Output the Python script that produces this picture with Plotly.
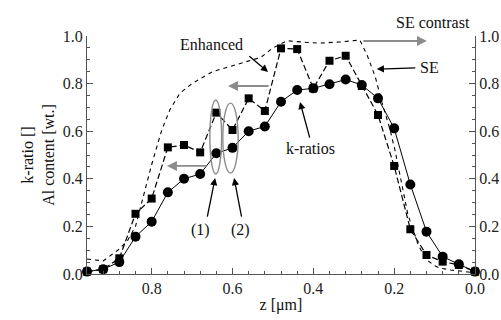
import plotly.graph_objects as go

z = [0.96, 0.92, 0.88, 0.84, 0.80, 0.76, 0.72, 0.68, 0.64, 0.60, 0.56, 0.52, 0.48,
     0.44, 0.40, 0.36, 0.32, 0.28, 0.24, 0.20, 0.16, 0.12, 0.08, 0.04, 0.00]
k_ratios = [0.01, 0.02, 0.05, 0.157, 0.22, 0.343, 0.40, 0.42, 0.507, 0.53, 0.60, 0.62, 0.724,
            0.773, 0.78, 0.797, 0.817, 0.794, 0.738, 0.612, 0.376, 0.178, 0.073, 0.041, 0.01]
enhanced = [0.01, 0.02, 0.066, 0.253, 0.317, 0.532, 0.542, 0.511, 0.678, 0.605, 0.738, 0.685, 0.948,
            0.945, 0.78, 0.896, 0.917, 0.79, 0.668, 0.454, 0.188, 0.08, 0.052, 0.038, 0.01]
se_z = [0.96, 0.92, 0.88, 0.86, 0.84, 0.81, 0.80, 0.775, 0.755, 0.73, 0.70, 0.65, 0.59, 0.53, 0.50, 0.465,
        0.43, 0.385, 0.334, 0.285, 0.267, 0.247, 0.23, 0.21, 0.198, 0.186, 0.166, 0.14, 0.12,
        0.10, 0.087, 0.06, 0.037, 0.0]
se = [0.063, 0.055, 0.105, 0.14, 0.20, 0.395, 0.46, 0.605, 0.69, 0.76, 0.80, 0.85, 0.88, 0.91, 0.95, 0.98,
      0.975, 0.97, 0.975, 0.983, 0.92, 0.83, 0.72, 0.605, 0.52, 0.42, 0.25, 0.12, 0.06,
      0.035, 0.025, 0.017, 0.013, 0.005]
y_ticks = [0.0, 0.2, 0.4, 0.6, 0.8, 1.0]
x_ticks = [0.8, 0.6, 0.4, 0.2, 0.0]

FONT = "Liberation Serif, Times New Roman, DejaVu Serif, serif"
GRAY = "#8c8c8c"

fig = go.Figure()
fig.add_trace(go.Scatter(x=se_z, y=se, mode="lines", line=dict(color="black", width=1.1, dash="4px,4px"),
                         cliponaxis=False, showlegend=False))
fig.add_trace(go.Scatter(x=z, y=enhanced, mode="lines+markers",
                         line=dict(color="black", width=1.2, dash="6px,3px"),
                         marker=dict(symbol="square", size=8, color="black"),
                         cliponaxis=False, showlegend=False))
fig.add_trace(go.Scatter(x=z, y=k_ratios, mode="lines+markers",
                         line=dict(color="black", width=1),
                         marker=dict(symbol="circle", size=10, color="black"),
                         cliponaxis=False, showlegend=False))
fig.add_trace(go.Scatter(x=[None], y=[None], yaxis="y2", showlegend=False))

tick_font = dict(family=FONT, size=16, color="#222")
fig.update_layout(
    width=501, height=320, margin=dict(l=87, r=26, t=36, b=46),
    paper_bgcolor="white", plot_bgcolor="white",
    font=dict(family=FONT, size=16, color="#111"),
    xaxis=dict(range=[0.96, 0.0], tickvals=x_ticks, ticktext=[f"{v:.1f}" for v in x_ticks],
               ticks="inside", ticklen=6, tickwidth=1, tickcolor="#555", automargin=False,
               minor=dict(dtick=0.04, tick0=0, ticks="inside", ticklen=3, tickcolor="#555"),
               showline=True, linecolor="#555", linewidth=1.2, showgrid=False, zeroline=False,
               tickfont=tick_font, title=dict(text="z [μm]", font=dict(family=FONT, size=16), standoff=2)),
    yaxis=dict(range=[0, 1], tickvals=y_ticks, ticktext=[f"{v:.1f}" for v in y_ticks],
               ticks="inside", ticklen=6, tickwidth=1, tickcolor="#555", automargin=False,
               minor=dict(dtick=0.05, ticks="inside", ticklen=3, tickcolor="#555"),
               showline=True, linecolor="#555", linewidth=1.2, showgrid=False, zeroline=False,
               tickfont=tick_font,
               title=dict(text="k-ratio []<br>Al content [wt.]", font=dict(family=FONT, size=16), standoff=4)),
    yaxis2=dict(range=[0, 1], overlaying="y", side="right", tickvals=y_ticks,
                ticktext=[f"{v:.1f}" for v in y_ticks], automargin=False,
                ticks="inside", ticklen=6, tickwidth=1, tickcolor="#555",
                minor=dict(dtick=0.05, ticks="inside", ticklen=3, tickcolor="#555"),
                showline=True, linecolor="#555", linewidth=1.2, showgrid=False, zeroline=False,
                tickfont=tick_font),
)

def arrow(hx, hy, tx, ty, color="black", width=1.3):
    fig.add_annotation(x=hx, y=hy, ax=tx, ay=ty, xref="x", yref="y", axref="x", ayref="y",
                       text="", showarrow=True, arrowhead=2, arrowsize=1.1, arrowwidth=width,
                       arrowcolor=color)

def label(x, y, text, xanchor="center", yref="y"):
    fig.add_annotation(x=x, y=y, xref="x", yref=yref, text=text, showarrow=False,
                       xanchor=xanchor, yanchor="middle",
                       font=dict(family=FONT, size=16, color="#111"))

label(0.651, 0.966, "Enhanced")
arrow(0.512, 0.849, 0.562, 0.92)
arrow(0.611, 0.79, 0.507, 0.79, color=GRAY, width=1.8)
arrow(0.762, 0.454, 0.661, 0.454, color=GRAY, width=1.8)
arrow(0.119, 0.979, 0.280, 0.979, color=GRAY, width=1.8)
label(0.104, 1.055, "SE contrast", yref="paper")
arrow(0.243, 0.861, 0.144, 0.866)
label(0.141, 0.866, "SE", xanchor="left")
label(0.406, 0.529, "k-ratios")
arrow(0.433, 0.723, 0.408, 0.567)
label(0.68, 0.185, "(1)")
arrow(0.643, 0.403, 0.663, 0.235)
label(0.579, 0.185, "(2)")
arrow(0.596, 0.403, 0.577, 0.235)

fig.add_shape(type="circle", xref="x", yref="y", x0=0.656, x1=0.627, y0=0.42, y1=0.731,
              line=dict(color=GRAY, width=1.4))
fig.add_shape(type="circle", xref="x", yref="y", x0=0.624, x1=0.586, y0=0.424, y1=0.718,
              line=dict(color=GRAY, width=1.4))

fig.write_html("out.html")
